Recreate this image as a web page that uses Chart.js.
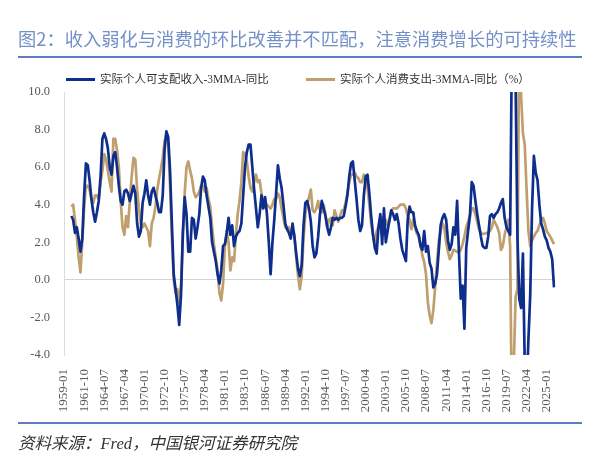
<!DOCTYPE html>
<html><head><meta charset="utf-8">
<script src="https://cdn.jsdelivr.net/npm/chart.js@4.4.1/dist/chart.umd.min.js"></script>
<style>
html,body{margin:0;padding:0;background:#fff;}
#wrap{position:relative;width:600px;height:461px;overflow:hidden;background:#fff;}
#c{position:absolute;left:0;top:0;}
.title{position:absolute;left:18px;top:26px;font-family:"Noto Sans CJK SC",sans-serif;font-size:18.3px;color:#7391C8;line-height:24px;white-space:nowrap;}
.rule{position:absolute;left:18px;width:564px;height:2px;background:#5C7EC1;}
.item{position:absolute;top:71px;height:16px;display:flex;align-items:center;white-space:nowrap;font-family:"Liberation Serif","Noto Sans CJK SC",serif;font-size:11.5px;color:#333;line-height:16px;}
.sw{display:inline-block;width:29px;height:3px;margin-right:5px;}
.footer{position:absolute;left:18px;top:432px;font-family:"Liberation Serif","Noto Sans CJK SC",serif;font-style:italic;font-size:16.5px;color:#333;line-height:24px;white-space:nowrap;}
</style></head>
<body>
<div id="wrap">
<canvas id="c" width="600" height="461"></canvas>
<div class="title">图2：收入弱化与消费的环比改善并不匹配，注意消费增长的可持续性</div>
<div class="rule" style="top:56px"></div>
<div class="item" style="left:66px"><span class="sw" style="background:#0E2E8E"></span><span id="l0"></span></div>
<div class="item" style="left:306px"><span class="sw" style="background:#BF9F6E"></span><span id="l1"></span></div>
<div class="rule" style="top:422px"></div>
<div class="footer">资料来源：Fred，中国银河证券研究院</div>
</div>
<script>
// ---- data ----
const seriesNames = ['实际个人可支配收入-3MMA-同比', '实际个人消费支出-3MMA-同比（%）'];
const firstLabel = '1960-01';   // first quarter with data
const tickEvery = 11;           // one tick label every 11 quarters (33 months)
const yMin = -4, yMax = 10, yStep = 2;

// quarterly categories 1959-01 ... 2026-01
const quarterLabels = [];
for (let y = 1959; y <= 2026; y++) {
  for (const m of ['01','04','07','10']) {
    quarterLabels.push(y + '-' + m);
    if (y === 2026) break;
  }
}

// 实际个人可支配收入-3MMA-同比, quarterly from 1960-01
const incomeYoY = [
3.4,
3.2,2.5,2.8,2.2, 1.5,2.2,4.5,6.2, 6.1,5.3,4.3,3.6, 3.1,3.6,4.2,5.5,
7.5,7.8,7.5,7.0, 6.0,5.6,6.6,6.8, 6.0,5.0,4.2,4.0, 4.7,4.8,4.6,4.2,
4.6,5.0,4.6,3.0, 2.3,2.6,4.1,4.6, 5.3,4.5,4.0,4.7, 4.9,4.5,4.1,3.6,
3.6,4.5,6.9,7.9, 7.6,5.8,3.0,0.3, -0.5,-1.3,-2.4,-0.8, 2.5,4.4,3.5,1.5,
1.5,3.3,3.2,2.2, 2.8,3.5,4.9,5.5, 5.3,4.5,3.9,3.3, 2.0,1.5,1.0,0.3,
-0.2,0.5,1.8,1.9, 2.5,3.3,2.4,2.9, 1.8,2.3,2.5,2.6, 3.0,4.5,6.0,6.8,
7.2,7.2,6.0,4.8, 3.8,2.8,3.5,4.5, 3.8,4.4,3.5,2.0, 0.3,2.0,3.2,4.6,
6.1,5.4,4.9,4.0, 3.0,2.7,2.5,2.2, 3.0,2.3,1.4,0.6, 0.2,0.8,2.9,4.1,
4.2,3.8,3.1,1.8, 1.2,1.4,2.3,3.5, 4.2,3.8,3.4,2.8, 2.4,2.8,3.3,3.2,
3.3,3.2,3.3,3.3, 3.4,3.9,4.5,5.5, 6.2,6.3,5.3,4.3, 3.2,2.6,2.9,4.5,
5.5,5.6,4.6,3.4, 2.4,1.7,1.4,2.8, 3.5,1.9,3.8,2.0, 2.6,3.2,3.7,3.5,
3.2,3.5,3.0,2.2, 1.6,1.3,1.0,3.2, 3.9,3.6,3.6,
2.9,2.6,2.4,1.8, 1.6,2.6,1.5,1.8, 0.9,0.6,-0.4,-0.2, 0.3,1.6,2.9,3.3,
3.5,3.2,2.1,1.6, 1.9,2.8,2.4,4.2, 1.5,-1.0,-0.3,-2.6, 1.7,2.6,3.4,5.2,
5.0,4.2,3.5,2.9, 2.3,1.8,1.7,
1.7,
2.3,3.4,3.5,3.3, 3.5,3.6,3.8,4.1, 4.3,3.3,2.8,2.6, 2.4,13,12,10.5,
2.3,-1.0,-1.5,1.4, -4.5,-6,-3.2,-0.8, 3.8,6.6,5.7,5.3, 4.0,3.0,2.7,2.3,
2.1,1.7,1.5,1.1,
-0.4
];

// 实际个人消费支出-3MMA-同比, quarterly from 1960-01
const spendingYoY = [
3.9,
4.0,3.2,2.3,1.2, 0.4,2.0,3.8,5.0, 5.0,4.8,4.3,4.1, 4.5,4.5,4.3,5.2,
5.8,6.7,6.4,5.8, 5.2,4.7,7.5,7.5, 6.9,6.0,4.2,2.8, 2.4,3.4,2.8,4.2,
5.5,6.5,6.4,4.8, 3.8,3.0,2.8,3.0, 2.8,2.6,1.8,3.0, 3.3,3.9,4.8,5.4,
5.9,6.5,7.4,7.7, 7.3,5.0,2.2,0.0, -0.7,-0.5,-1.2,-0.3, 2.3,4.6,6.0,6.3,
5.8,5.4,4.7,4.4, 4.5,4.7,5.0,5.0, 4.7,4.9,4.3,3.9, 2.8,1.9,1.2,0.5,
-0.7,-1.1,-0.2,1.8, 2.6,2.0,0.5,1.2, 1.0,2.4,3.5,4.2, 5.2,6.8,6.7,6.3,
5.5,4.9,4.7,5.2, 5.6,5.2,5.3,4.6, 4.2,4.1,4.0,3.9, 3.8,4.0,4.3,4.3,
4.6,4.4,3.8,3.3, 2.8,2.7,2.8,2.6, 2.7,2.4,1.2,0.2, -0.5,0.2,2.2,3.5,
4.0,4.4,4.8,3.7, 3.6,3.8,4.2,3.7, 3.6,4.0,3.5,2.8, 3.2,3.3,2.9,3.7,
3.4,3.1,3.4,3.7, 3.7,4.1,4.6,5.2, 5.6,5.6,5.7,5.5, 5.4,5.2,5.2,5.6,
5.4,4.9,4.0,3.0, 2.4,1.9,2.6,2.8, 3.3,3.3,3.1,3.2, 2.9,3.1,3.7,3.8,
3.8,3.8,3.9,4.0, 4.0,4.0,3.8,3.4, 3.2,2.7,3.2,
2.8,2.45,2.3,1.85, 1.3,0.95,0.3,-1.2, -1.9,-2.3,-1.6,-0.4, 0.9,2.1,2.6,3.0,
2.8,2.0,1.5,1.1, 1.3,1.6,1.55,1.5, 1.45,1.6,1.9,2.3, 2.8,3.1,3.4,3.8,
3.8,3.5,3.1,2.7, 2.5,2.45,2.45,
2.5,
2.5,2.6,2.8,3.2, 3.0,2.8,2.5,1.6, 1.8,2.4,2.8,3.2, 1.8,-8,-4.5,-0.9,
-0.5,14,9.8,7.8, 7.2,4.8,2.6,1.8, 2.1,2.3,2.5,2.6, 2.9,3.2,3.3,3.0,
2.6,2.45,2.3,2.1,
1.9
];

const BLUE = '#0E2E8E', TAN = '#BF9F6E';

function align(vals) {
  const off = quarterLabels.indexOf(firstLabel);
  return quarterLabels.map((_, i) => (i >= off && i - off < vals.length) ? vals[i - off] : null);
}

document.getElementById('l0').textContent = seriesNames[0];
document.getElementById('l1').textContent = seriesNames[1];

new Chart(document.getElementById('c'), {
  type: 'line',
  data: {
    labels: quarterLabels,
    datasets: [
      {label: seriesNames[0], data: align(incomeYoY), borderColor: BLUE, borderWidth: 2.7,
       pointRadius: 0, tension: 0, fill: false, borderJoinStyle: 'round'},
      {label: seriesNames[1], data: align(spendingYoY), borderColor: TAN, borderWidth: 2.7,
       pointRadius: 0, tension: 0, fill: false, borderJoinStyle: 'round'}
    ]
  },
  options: {
    responsive: false, animation: false, events: [],
    layout: {padding: {top: 92, left: 0, right: 46, bottom: 0}},
    plugins: {legend: {display: false}, title: {display: false}, tooltip: {enabled: false}},
    scales: {
      x: {
        type: 'category',
        grid: {display: false, drawTicks: false},
        border: {display: false},
        ticks: {
          autoSkip: false, maxRotation: 90, minRotation: 90, padding: 14,
          color: '#595959', font: {family: 'Liberation Serif', size: 13},
          callback: function (v, i) { return i % tickEvery === 0 ? this.getLabelForValue(v) : null; }
        },
        afterFit: s => { s.height = 106; }
      },
      y: {
        min: yMin, max: yMax,
        ticks: {stepSize: yStep, padding: 14, color: '#595959',
                font: {family: 'Liberation Serif', size: 12.5},
                callback: v => Number(v).toFixed(1)},
        grid: {drawTicks: false, lineWidth: 1,
               color: c => (c.tick && c.tick.value === 0) ? '#d4d4d4' : 'rgba(0,0,0,0)'},
        border: {display: true, color: '#dcdcdc'},
        afterFit: s => { s.width = 64; }
      }
    }
  }
});
</script>
</body></html>
